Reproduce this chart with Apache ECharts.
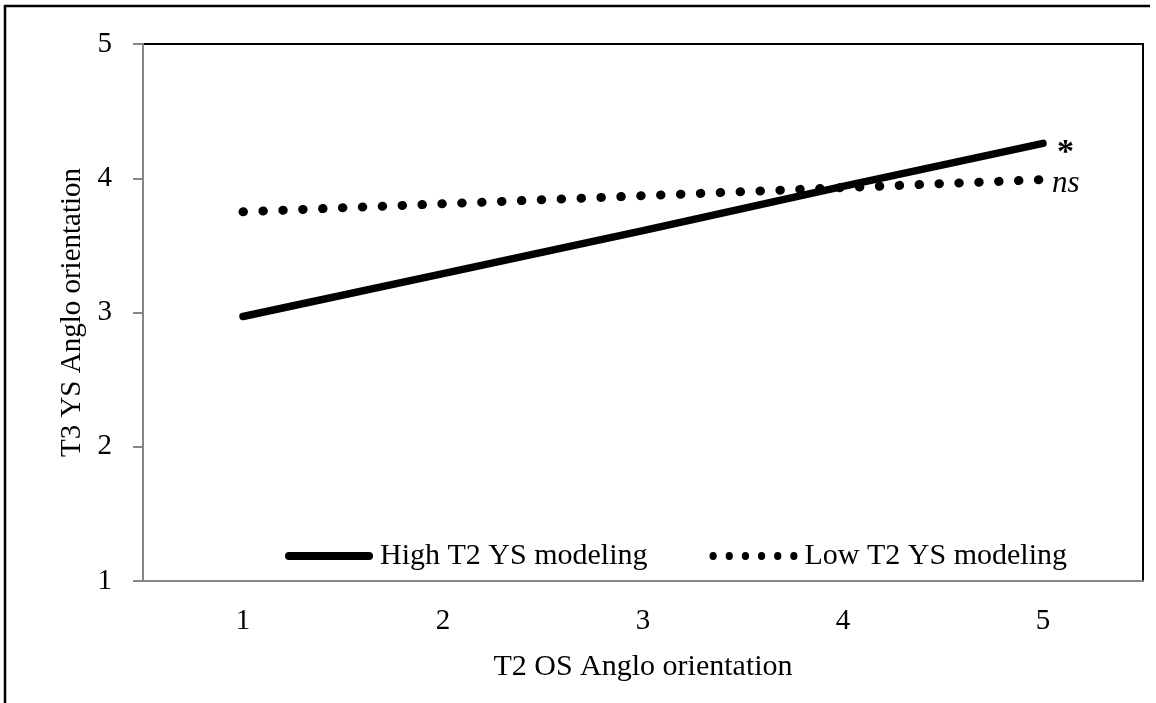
<!DOCTYPE html>
<html>
<head>
<meta charset="utf-8">
<script src="https://cdn.jsdelivr.net/npm/echarts@6/dist/echarts.min.js"></script>
<style>
html,body{margin:0;padding:0;background:#fff;}
#chart{width:1156px;height:703px;}
</style>
</head>
<body>
<div id="chart"></div>
<script>
var categories = ['1', '2', '3', '4', '5'];
var highValues = [2.97, 3.29, 3.61, 3.94, 4.26];
var lowValues = [3.75, 3.81, 3.87, 3.93, 3.99];
var yTicks = [1, 2, 3, 4, 5];
var seriesNames = ['High T2 YS modeling', 'Low T2 YS modeling'];
var endMarks = ['*', 'ns'];

var FONT = '"Liberation Serif", "Times New Roman", serif';
var solidIcon = 'path://M4,0 L84,0 A4,4 0 0 1 84,8 L4,8 A4,4 0 0 1 4,0 Z';
var dotIcon = 'path://' + [4, 20, 36, 52, 68, 84].map(function (cx) {
  return 'M' + (cx - 3.6) + ',4 A3.6,3.6 0 1 0 ' + (cx + 3.6) + ',4 A3.6,3.6 0 1 0 ' + (cx - 3.6) + ',4 Z';
}).join(' ');

var chart = echarts.init(document.getElementById('chart'), null, {renderer: 'canvas'});
chart.setOption({
  animation: false,
  backgroundColor: '#fff',
  textStyle: {fontFamily: FONT, color: '#000'},
  grid: {left: 143, right: 13, top: 44, bottom: 122, show: true, borderColor: '#000', borderWidth: 2, backgroundColor: 'transparent'},
  graphic: [
    {type: 'line', shape: {x1: 4, y1: 6, x2: 1150, y2: 6}, style: {stroke: '#000', lineWidth: 2.5}},
    {type: 'line', shape: {x1: 5, y1: 5, x2: 5, y2: 710}, style: {stroke: '#000', lineWidth: 2.5}}
  ],
  legend: {
    left: 280, top: 536,
    itemWidth: 88, itemHeight: 8, itemGap: 62,
    symbolKeepAspect: false,
    textStyle: {fontFamily: FONT, fontSize: 30, color: '#000', padding: [3, 0, 0, 2]},
    data: [
      {name: seriesNames[0], icon: solidIcon, itemStyle: {color: '#000'}},
      {name: seriesNames[1], icon: dotIcon, itemStyle: {color: '#000'}}
    ]
  },
  xAxis: {
    type: 'category', data: categories, boundaryGap: true,
    axisLine: {lineStyle: {color: '#868686', width: 2}},
    axisTick: {show: false},
    axisLabel: {fontFamily: FONT, fontSize: 29, color: '#000', margin: 26},
    name: 'T2 OS Anglo orientation', nameLocation: 'middle', nameGap: 71,
    nameTextStyle: {fontFamily: FONT, fontSize: 30, color: '#000'}
  },
  yAxis: {
    type: 'value', min: yTicks[0], max: yTicks[yTicks.length - 1], interval: 1,
    axisLine: {show: true, lineStyle: {color: '#868686', width: 2}},
    axisTick: {show: true, length: 10, lineStyle: {color: '#868686', width: 2}},
    splitLine: {show: false},
    axisLabel: {fontFamily: FONT, fontSize: 29, color: '#000', margin: 31},
    name: 'T3 YS Anglo orientation', nameLocation: 'middle', nameGap: 56,
    nameTextStyle: {fontFamily: FONT, fontSize: 29, color: '#000'}
  },
  series: [
    {
      name: seriesNames[0], type: 'line', data: highValues, symbol: 'none',
      lineStyle: {color: '#000', width: 7.5, cap: 'round'},
      itemStyle: {color: '#000'},
      endLabel: {show: true, formatter: endMarks[0], fontFamily: FONT, fontSize: 34, fontWeight: 'bold', color: '#000', distance: 14, offset: [0, 10]}
    },
    {
      name: seriesNames[1], type: 'line', data: lowValues, symbol: 'none',
      lineStyle: {color: '#000', width: 9, cap: 'round', type: [0.5, 19.4]},
      itemStyle: {color: '#000'},
      endLabel: {show: true, formatter: endMarks[1], fontFamily: FONT, fontSize: 31, fontStyle: 'italic', color: '#000', distance: 9, offset: [0, 4]}
    }
  ]
});
</script>
</body>
</html>
